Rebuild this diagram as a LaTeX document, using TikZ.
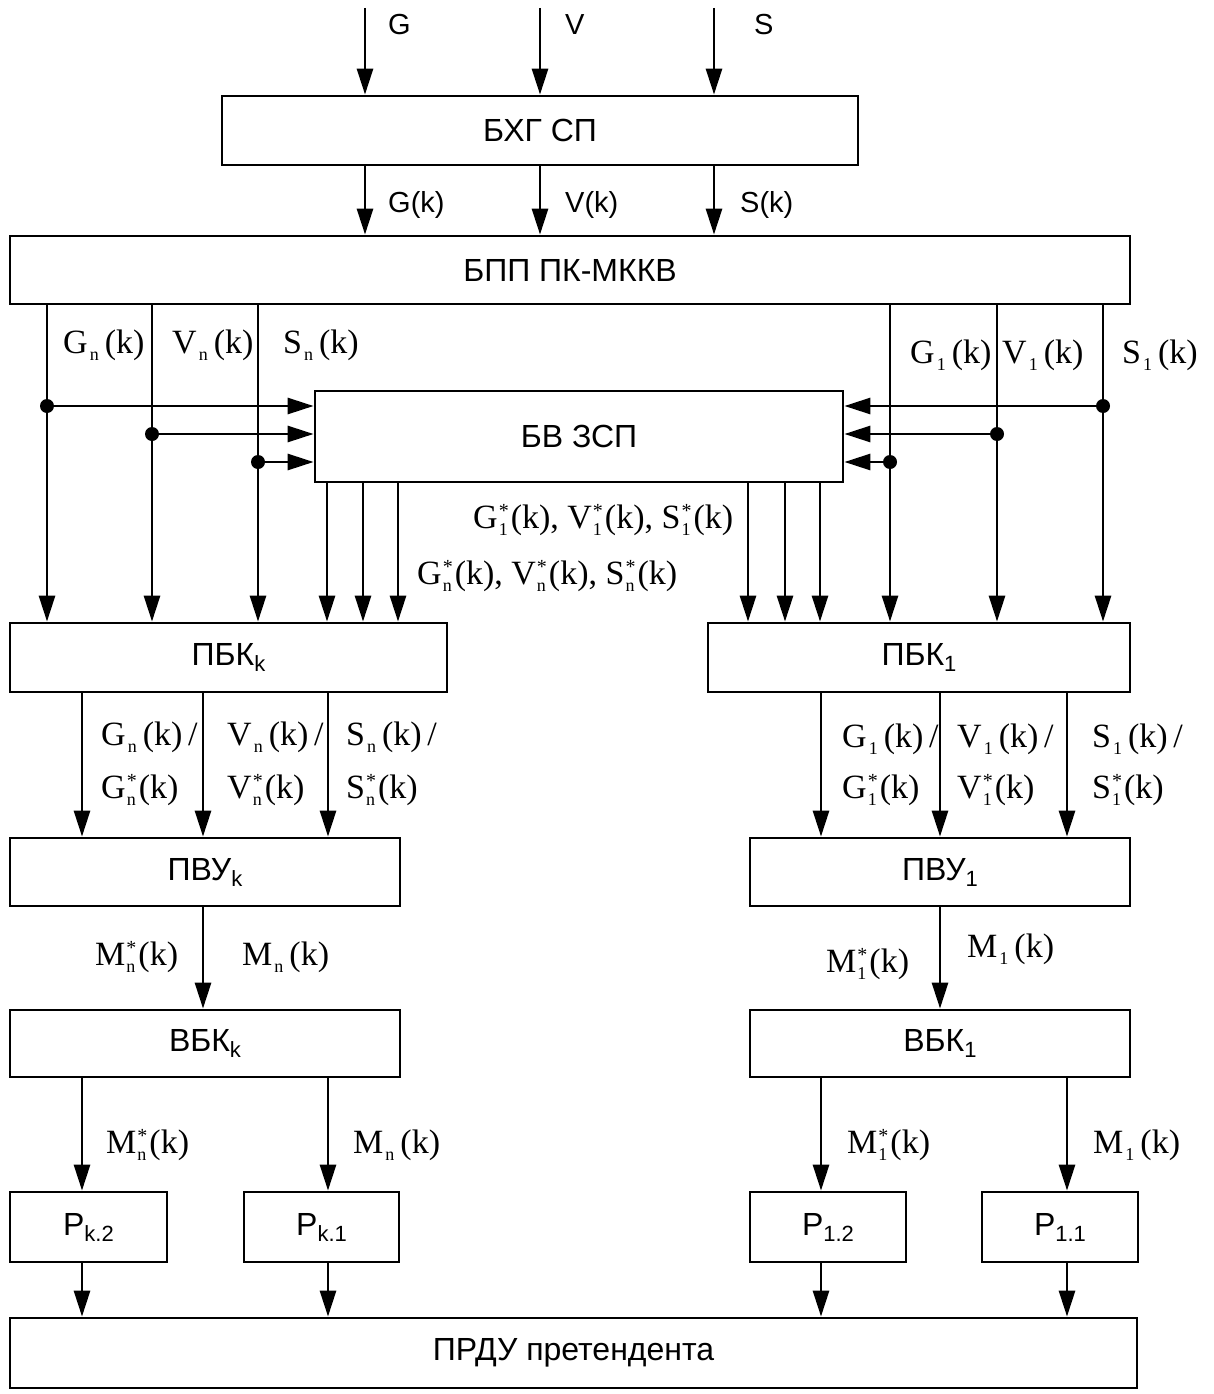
\documentclass[tikz,border=0pt]{standalone}
\usepackage{fontspec}
\setmainfont{Liberation Serif}
\setsansfont{Liberation Sans}
\usetikzlibrary{arrows.meta}
\newcommand\lsub[1]{\kern2pt\raisebox{-7pt}{\fontsize{18}{18}\selectfont #1}}
\newcommand\lsubst[1]{\kern1pt\rlap{\raisebox{11pt}{\fontsize{20}{20}\selectfont *}}\raisebox{-7pt}{\fontsize{18}{18}\selectfont #1}\kern3pt}
\newcommand\bsub[1]{\raisebox{-6pt}{\fontsize{22}{22}\selectfont #1}}
\newcommand\sg[2]{#1\lsub{#2}\kern6pt(k)}
\newcommand\sgs[2]{#1\lsubst{#2}(k)}
\begin{document}
\begin{tikzpicture}[x=1pt,y=-1pt,
  box/.style={draw,line width=2.8pt,inner sep=0pt,font=\sffamily\fontsize{32}{36}\selectfont},
  arr/.style={line width=2.8pt,-{Triangle[length=26pt,width=16pt]}},
  lab/.style={anchor=base west,inner sep=0pt,font=\fontsize{34}{40}\selectfont},
  slab/.style={anchor=base west,inner sep=0pt,font=\sffamily\fontsize{29}{34}\selectfont},
  dot/.style={circle,fill,inner sep=0pt,minimum size=14pt}]
\path[use as bounding box] (0,0) rectangle (1214,1394);

% boxes
\node[box,minimum width=636pt,minimum height=69pt] (bxg) at (540,130.5) {БХГ СП};
\node[box,minimum width=1120pt,minimum height=68pt] (bpp) at (570,270) {БПП ПК-МККВ};
\node[box,minimum width=528pt,minimum height=91pt] (bv) at (579,436.5) {БВ ЗСП};
\node[box,minimum width=437pt,minimum height=69pt] (pbkk) at (228.5,657.5) {ПБК\bsub{k}};
\node[box,minimum width=422pt,minimum height=69pt] (pbk1) at (919,657.5) {ПБК\bsub{1}};
\node[box,minimum width=390pt,minimum height=68pt] (pvuk) at (205,872) {ПВУ\bsub{k}};
\node[box,minimum width=380pt,minimum height=68pt] (pvu1) at (940,872) {ПВУ\bsub{1}};
\node[box,minimum width=390pt,minimum height=67pt] (vbkk) at (205,1043.5) {ВБК\bsub{k}};
\node[box,minimum width=380pt,minimum height=67pt] (vbk1) at (940,1043.5) {ВБК\bsub{1}};
\node[box,minimum width=157pt,minimum height=70pt] (pk2) at (88.5,1227) {P\bsub{k.2}};
\node[box,minimum width=155pt,minimum height=70pt] (pk1) at (321.5,1227) {P\bsub{k.1}};
\node[box,minimum width=156pt,minimum height=70pt] (p12) at (828,1227) {P\bsub{1.2}};
\node[box,minimum width=156pt,minimum height=70pt] (p11) at (1060,1227) {P\bsub{1.1}};
\node[box,minimum width=1127pt,minimum height=70pt] (prdu) at (573.5,1353) {ПРДУ претендента};

% column coordinates
\coordinate (cG) at (365,8);
\coordinate (cV) at (540,8);
\coordinate (cS) at (714,8);
\coordinate (a1) at (47,0);
\coordinate (a2) at (152,0);
\coordinate (a3) at (258,0);
\coordinate (b1) at (890,0);
\coordinate (b2) at (997,0);
\coordinate (b3) at (1103,0);
\coordinate (o1) at (327,0);
\coordinate (o2) at (363,0);
\coordinate (o3) at (398,0);
\coordinate (q1) at (748,0);
\coordinate (q2) at (785,0);
\coordinate (q3) at (820,0);
\coordinate (k1) at (82,0);
\coordinate (k2) at (203,0);
\coordinate (k3) at (328,0);
\coordinate (m1) at (821,0);
\coordinate (m2) at (940,0);
\coordinate (m3) at (1067,0);

% top inputs
\draw[arr] (cG) -- (bxg.north -| cG);
\draw[arr] (cV) -- (bxg.north -| cV);
\draw[arr] (cS) -- (bxg.north -| cS);
\node[slab] at (388,35) {G};
\node[slab] at (565,35) {V};
\node[slab] at (754,35) {S};

% bxg -> bpp
\draw[arr] (bxg.south -| cG) -- (bpp.north -| cG);
\draw[arr] (bxg.south -| cV) -- (bpp.north -| cV);
\draw[arr] (bxg.south -| cS) -- (bpp.north -| cS);
\node[slab] at (388,212) {G(k)};
\node[slab] at (565,212) {V(k)};
\node[slab] at (740,212) {S(k)};

% bpp -> pbk
\draw[arr] (bpp.south -| a1) -- (pbkk.north -| a1);
\draw[arr] (bpp.south -| a2) -- (pbkk.north -| a2);
\draw[arr] (bpp.south -| a3) -- (pbkk.north -| a3);
\draw[arr] (bpp.south -| b1) -- (pbk1.north -| b1);
\draw[arr] (bpp.south -| b2) -- (pbk1.north -| b2);
\draw[arr] (bpp.south -| b3) -- (pbk1.north -| b3);
\node[lab] at (63,353) {\sg{G}{n}};
\node[lab] at (172,353) {\sg{V}{n}};
\node[lab] at (283,353) {\sg{S}{n}};
\node[lab] at (910,363) {\sg{G}{1}};
\node[lab] at (1002,363) {\sg{V}{1}};
\node[lab] at (1122,363) {\sg{S}{1}};

% taps into BV ZSP
\node[dot] (d1) at (47,406) {};
\node[dot] (d2) at (152,434) {};
\node[dot] (d3) at (258,462) {};
\node[dot] (e1) at (1103,406) {};
\node[dot] (e2) at (997,434) {};
\node[dot] (e3) at (890,462) {};
\draw[arr] (d1.center) -- (bv.west |- d1);
\draw[arr] (d2.center) -- (bv.west |- d2);
\draw[arr] (d3.center) -- (bv.west |- d3);
\draw[arr] (e1.center) -- (bv.east |- e1);
\draw[arr] (e2.center) -- (bv.east |- e2);
\draw[arr] (e3.center) -- (bv.east |- e3);

% BV outputs
\draw[arr] (bv.south -| o1) -- (pbkk.north -| o1);
\draw[arr] (bv.south -| o2) -- (pbkk.north -| o2);
\draw[arr] (bv.south -| o3) -- (pbkk.north -| o3);
\draw[arr] (bv.south -| q1) -- (pbk1.north -| q1);
\draw[arr] (bv.south -| q2) -- (pbk1.north -| q2);
\draw[arr] (bv.south -| q3) -- (pbk1.north -| q3);
\node[lab] at (473,528) {\sgs{G}{1}, \sgs{V}{1}, \sgs{S}{1}};
\node[lab] at (417,584) {\sgs{G}{n}, \sgs{V}{n}, \sgs{S}{n}};

% pbk -> pvu
\draw[arr] (pbkk.south -| k1) -- (pvuk.north -| k1);
\draw[arr] (pbkk.south -| k2) -- (pvuk.north -| k2);
\draw[arr] (pbkk.south -| k3) -- (pvuk.north -| k3);
\draw[arr] (pbk1.south -| m1) -- (pvu1.north -| m1);
\draw[arr] (pbk1.south -| m2) -- (pvu1.north -| m2);
\draw[arr] (pbk1.south -| m3) -- (pvu1.north -| m3);
\node[lab] at (101,745) {\sg{G}{n}\,/};
\node[lab] at (227,745) {\sg{V}{n}\,/};
\node[lab] at (346,745) {\sg{S}{n}\,/};
\node[lab] at (101,798) {\sgs{G}{n}};
\node[lab] at (227,798) {\sgs{V}{n}};
\node[lab] at (346,798) {\sgs{S}{n}};
\node[lab] at (842,747) {\sg{G}{1}\,/};
\node[lab] at (957,747) {\sg{V}{1}\,/};
\node[lab] at (1092,747) {\sg{S}{1}\,/};
\node[lab] at (842,798) {\sgs{G}{1}};
\node[lab] at (957,798) {\sgs{V}{1}};
\node[lab] at (1092,798) {\sgs{S}{1}};

% pvu -> vbk
\draw[arr] (pvuk.south -| k2) -- (vbkk.north -| k2);
\draw[arr] (pvu1.south -| m2) -- (vbk1.north -| m2);
\node[lab] at (95,965) {\sgs{M}{n}};
\node[lab] at (242,965) {\sg{M}{n}};
\node[lab] at (826,972) {\sgs{M}{1}};
\node[lab] at (967,957) {\sg{M}{1}};

% vbk -> P
\draw[arr] (vbkk.south -| k1) -- (pk2.north -| k1);
\draw[arr] (vbkk.south -| k3) -- (pk1.north -| k3);
\draw[arr] (vbk1.south -| m1) -- (p12.north -| m1);
\draw[arr] (vbk1.south -| m3) -- (p11.north -| m3);
\node[lab] at (106,1153) {\sgs{M}{n}};
\node[lab] at (353,1153) {\sg{M}{n}};
\node[lab] at (847,1153) {\sgs{M}{1}};
\node[lab] at (1093,1153) {\sg{M}{1}};

% P -> PRDU
\draw[arr] (pk2.south -| k1) -- (prdu.north -| k1);
\draw[arr] (pk1.south -| k3) -- (prdu.north -| k3);
\draw[arr] (p12.south -| m1) -- (prdu.north -| m1);
\draw[arr] (p11.south -| m3) -- (prdu.north -| m3);
\end{tikzpicture}
\end{document}
